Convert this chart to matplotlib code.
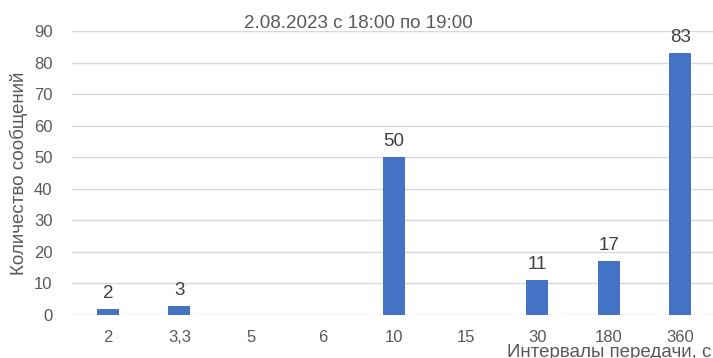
import numpy as np
import matplotlib
matplotlib.use("Agg")
import matplotlib.pyplot as plt

plt.rcParams['font.family'] = ['Liberation Sans', 'DejaVu Sans']

# data
categories = ["2", "3,3", "5", "6", "10", "15", "30", "180", "360"]
counts = [2, 3, 0, 0, 50, 0, 11, 17, 83]
title = "2.08.2023 с 18:00 по 19:00"

grey = "#595959"
bar_color = "#4472c4"

fig = plt.figure(figsize=(7.13, 3.58), dpi=100)
ax = fig.add_axes([72 / 713, 1 - 315 / 358, 644 / 713, 284 / 358])

x = np.arange(len(categories))
ax.bar(x, counts, width=0.31, color=bar_color, zorder=3)

for xi, c in zip(x, counts):
    if c > 0:
        ax.annotate(str(c), (xi, c), xytext=(0, 5), textcoords="offset points",
                    ha="center", va="bottom", fontsize=13.5, color="#404040")

ax.set_xlim(-0.5, len(categories) - 0.5)
ax.set_ylim(0, 90)
ax.set_yticks(range(0, 91, 10))
ax.set_xticks(x)
ax.set_xticklabels(categories)
ax.tick_params(axis="both", length=0, labelsize=12, colors=grey)
ax.tick_params(axis="x", pad=11)
ax.tick_params(axis="y", pad=14)
ax.grid(axis="y", color="#d9d9d9", linewidth=1, zorder=0)
for s in ax.spines.values():
    s.set_visible(False)

ax.set_ylabel("Количество сообщений", fontsize=13.5, color=grey, labelpad=4)
fig.text(358 / 713, 1 - 23 / 358, title, ha="center", va="center", fontsize=13.5, color=grey)
fig.text(711 / 713, 1 - 357 / 358, "Интервалы передачи, с", ha="right", va="baseline",
         fontsize=13.5, color=grey)

fig.savefig("out.png", dpi=100)
